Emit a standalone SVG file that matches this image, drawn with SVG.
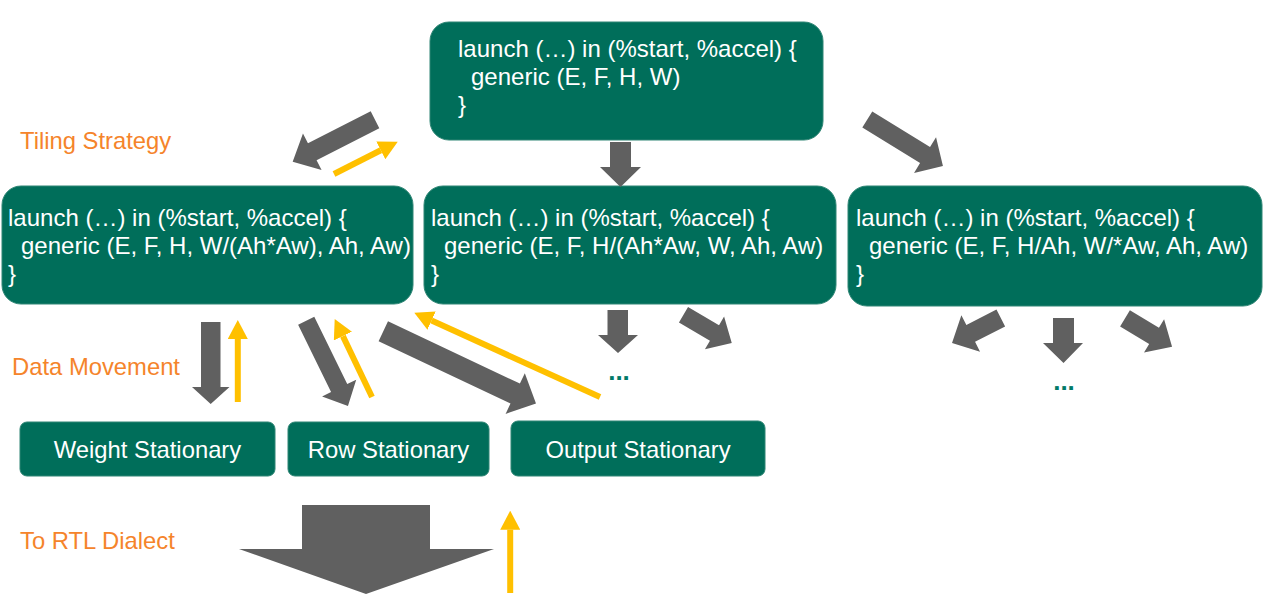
<svg xmlns="http://www.w3.org/2000/svg" width="1263" height="596" viewBox="0 0 1263 596">
<style>
.box{fill:#006E5A;stroke:#2E8574;stroke-width:1}
.code{font-family:"Liberation Sans",Arial,sans-serif;font-size:24px;fill:#FFFFFF}
.lbl{font-family:"Liberation Sans",Arial,sans-serif;font-size:23.8px;fill:#FFFFFF;text-anchor:middle}
.stage{font-family:"Liberation Sans",Arial,sans-serif;font-size:23.8px;fill:#F5842B}
.dots{font-family:"Liberation Sans",Arial,sans-serif;font-size:26px;font-weight:bold;fill:#007A68;text-anchor:middle}
.g{fill:#606060}
.y{stroke:#FFC000;stroke-width:6;fill:none;marker-end:url(#yh)}
</style>
<defs>
<marker id="yh" viewBox="0 -10 19 20" markerWidth="19" markerHeight="20" refX="0" refY="0" markerUnits="userSpaceOnUse" orient="auto">
<path d="M0,-10 L19,0 L0,10 Z" fill="#FFC000"/>
</marker>
</defs>

<text class="stage" x="20" y="149">Tiling Strategy</text>
<text class="stage" x="12" y="375">Data Movement</text>
<text class="stage" x="20" y="549">To RTL Dialect</text>

<g id="top">
<rect class="box" x="430" y="22" width="393" height="118" rx="19"/>
<text class="code" x="458" y="57">launch (…) in (%start, %accel) {</text>
<text class="code" x="471" y="85">generic (E, F, H, W)</text>
<text class="code" x="458" y="113">}</text>
</g>

<g id="left">
<rect class="box" x="2" y="186" width="411" height="118" rx="19"/>
<text class="code" x="8" y="226">launch (…) in (%start, %accel) {</text>
<text class="code" x="21" y="254">generic (E, F, H, W/(Ah*Aw), Ah, Aw)</text>
<text class="code" x="8" y="282">}</text>
</g>

<g id="middle">
<rect class="box" x="424" y="186" width="412" height="118" rx="19"/>
<text class="code" x="431" y="226">launch (…) in (%start, %accel) {</text>
<text class="code" x="444" y="254">generic (E, F, H/(Ah*Aw, W, Ah, Aw)</text>
<text class="code" x="431" y="282">}</text>
</g>

<g id="right">
<rect class="box" x="848" y="186" width="414" height="120" rx="19"/>
<text class="code" x="856" y="226">launch (…) in (%start, %accel) {</text>
<text class="code" x="869" y="254">generic (E, F, H/Ah, W/*Aw, Ah, Aw)</text>
<text class="code" x="856" y="282">}</text>
</g>

<g id="weight">
<rect class="box" x="20" y="422" width="255" height="54" rx="7"/>
<text class="lbl" x="147.5" y="458">Weight Stationary</text>
</g>
<g id="row">
<rect class="box" x="288" y="422" width="201" height="54" rx="7"/>
<text class="lbl" x="388.5" y="458">Row Stationary</text>
</g>
<g id="output">
<rect class="box" x="511" y="421" width="254" height="55" rx="7"/>
<text class="lbl" x="638" y="457.5">Output Stationary</text>
</g>

<text class="dots" x="619" y="380">...</text>
<text class="dots" x="1064" y="390">...</text>

<g id="connectors">
<polygon class="g" transform="translate(375,119.8) rotate(153)" points="0,-9.5 70.4,-9.5 70.4,-20.5 92.4,0 70.4,20.5 70.4,9.5 0,9.5"/>
<polygon class="g" transform="translate(867.3,119.5) rotate(31.6)" points="0,-9.5 67.8,-9.5 67.8,-21 88.8,0 67.8,21 67.8,9.5 0,9.5"/>
<polygon class="g" points="610,142 631,142 631,167 641,167 620.5,187 600,167 610,167"/>
<polygon class="g" points="607.5,310 628,310 628,335 638,335 618,353 598,335 607.5,335"/>
<polygon class="g" transform="translate(683.5,314.8) rotate(30.3)" points="0,-9 35.9,-9 35.9,-19 55.9,0 35.9,19 35.9,9 0,9"/>
<polygon class="g" transform="translate(1000.8,318) rotate(152.9)" points="0,-9.5 33.8,-9.5 33.8,-20.5 54.8,0 33.8,20.5 33.8,9.5 0,9.5"/>
<polygon class="g" points="1053,318 1074,318 1074,343 1083,343 1063.5,363 1043,343 1053,343"/>
<polygon class="g" transform="translate(1125,318.4) rotate(31)" points="0,-9.5 33.9,-9.5 33.9,-19.5 54.9,0 33.9,19.5 33.9,9.5 0,9.5"/>
<polygon class="g" points="201,322 220.5,322 220.5,387 229.5,387 210.7,404 192,387 201,387"/>
<polygon class="g" transform="translate(306.2,320.8) rotate(63.9)" points="0,-9 74.9,-9 74.9,-19 94.9,0 74.9,19 74.9,9 0,9"/>
<polygon class="g" transform="translate(383.3,331.2) rotate(25.3)" points="0,-11 145.9,-11 145.9,-22.5 168.9,0 145.9,22.5 145.9,11 0,11"/>
<polygon class="g" points="302,505 430,505 430,549 494,549 366,594 239,549 302,549"/>

<line class="y" x1="334" y1="174" x2="380.8" y2="150.3"/>
<line class="y" x1="237.8" y1="402" x2="237.8" y2="339"/>
<line class="y" x1="372" y1="397" x2="342.9" y2="336.1"/>
<line class="y" x1="600" y1="397" x2="431.6" y2="320.6"/>
<line class="y" x1="510.2" y1="593" x2="510.2" y2="529.7"/>
</g>
</svg>
